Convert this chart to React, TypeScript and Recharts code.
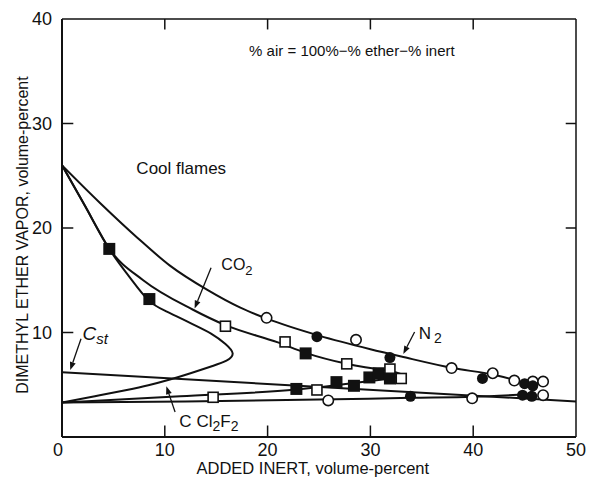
import React from "react";
import {
  ComposedChart,
  Line,
  Scatter,
  XAxis,
  YAxis,
  ReferenceLine,
  ReferenceDot,
} from "recharts";

const FONT = "'Liberation Sans', Arial, Helvetica, sans-serif";
const INK = "#111";

// ---------- axes ----------
const xTicks = [0, 10, 20, 30, 40, 50];
const yTicks = [0, 10, 20, 30, 40];
const innerXTicks = [10, 20, 30, 40];
const innerYTicks = [10, 20, 30];
const X_MAX = 50;
const Y_MAX = 40;
// inward tick length, in data units (about 10px)
const TICK_X = 1.0;
const TICK_Y = 1.0;

// ---------- boundary curves (x = added inert %, y = ether %) ----------
const cstLine = [
  { x: 0, y: 6.2 },
  { x: 50, y: 3.4 },
];

const n2Upper = [
  { x: 0, y: 26.0 },
  { x: 3.7, y: 22.4 },
  { x: 7.3, y: 19.1 },
  { x: 10.5, y: 16.4 },
  { x: 14.1, y: 14.1 },
  { x: 17.3, y: 12.4 },
  { x: 20, y: 11.3 },
  { x: 25, y: 9.7 },
  { x: 30, y: 8.4 },
  { x: 33, y: 7.7 },
  { x: 38, y: 6.6 },
  { x: 42, y: 5.95 },
  { x: 44, y: 5.45 },
  { x: 45.2, y: 5.05 },
];
const n2Nose = [
  { x: 45.2, y: 5.05 },
  { x: 45.8, y: 4.6 },
  { x: 45.4, y: 4.1 },
];
const n2Lower = [
  { x: 0, y: 3.3 },
  { x: 12, y: 3.4 },
  { x: 25, y: 3.58 },
  { x: 34, y: 3.75 },
  { x: 40, y: 3.85 },
  { x: 45.4, y: 4.1 },
];

const co2Upper = [
  { x: 0, y: 26.0 },
  { x: 2.3, y: 22.0 },
  { x: 4.6, y: 18.0 },
  { x: 7.9, y: 15.0 },
  { x: 12.7, y: 12.2 },
  { x: 15.9, y: 10.7 },
  { x: 21, y: 9.05 },
  { x: 23.7, y: 8.05 },
  { x: 27.7, y: 7.0 },
  { x: 32, y: 6.3 },
];
const co2Nose = [
  { x: 32, y: 6.3 },
  { x: 33.1, y: 5.95 },
  { x: 32, y: 5.6 },
];
const co2Lower = [
  { x: 0, y: 3.3 },
  { x: 11.5, y: 3.9 },
  { x: 22.8, y: 4.55 },
  { x: 27, y: 5.0 },
  { x: 32, y: 5.6 },
];

const ccl2f2Curve = [
  { x: 0, y: 26.0 },
  { x: 2.3, y: 22.0 },
  { x: 4.6, y: 18.0 },
  { x: 6.5, y: 15.4 },
  { x: 8.4, y: 13.1 },
  { x: 10.2, y: 12.0 },
  { x: 12.5, y: 10.9 },
  { x: 14.5, y: 9.9 },
  { x: 15.9, y: 8.9 },
  { x: 16.6, y: 8.0 },
  { x: 16.0, y: 7.3 },
  { x: 14.5, y: 6.75 },
  { x: 12.5, y: 6.1 },
  { x: 10.5, y: 5.5 },
  { x: 8.4, y: 4.95 },
  { x: 6.3, y: 4.5 },
  { x: 3.2, y: 3.9 },
  { x: 0, y: 3.3 },
];

// ---------- measured points ----------
const openCircles = [
  { x: 19.9, y: 11.4 },
  { x: 28.6, y: 9.3 },
  { x: 37.9, y: 6.6 },
  { x: 41.9, y: 6.1 },
  { x: 44.0, y: 5.4 },
  { x: 45.8, y: 5.3 },
  { x: 46.8, y: 5.3 },
  { x: 46.8, y: 4.0 },
  { x: 39.9, y: 3.7 },
  { x: 25.9, y: 3.5 },
];
const filledCircles = [
  { x: 24.8, y: 9.6 },
  { x: 31.9, y: 7.6 },
  { x: 40.9, y: 5.6 },
  { x: 45.0, y: 5.1 },
  { x: 45.8, y: 4.9 },
  { x: 45.7, y: 3.9 },
  { x: 44.8, y: 4.0 },
  { x: 33.9, y: 3.9 },
];
const openSquares = [
  { x: 15.9, y: 10.6 },
  { x: 21.7, y: 9.1 },
  { x: 27.7, y: 7.0 },
  { x: 31.9, y: 6.5 },
  { x: 33.0, y: 5.6 },
  { x: 24.8, y: 4.5 },
  { x: 14.7, y: 3.8 },
];
const filledSquares = [
  { x: 4.6, y: 18.0 },
  { x: 8.5, y: 13.2 },
  { x: 23.7, y: 8.0 },
  { x: 22.8, y: 4.6 },
  { x: 26.7, y: 5.25 },
  { x: 28.4, y: 4.9 },
  { x: 29.9, y: 5.7 },
  { x: 30.8, y: 6.1 },
  { x: 31.9, y: 5.6 },
];

// ---------- annotations ----------
const arrows = [
  { x1: 1.85, y1: 9.4, x2: 0.8, y2: 6.4 }, // C_st
  { x1: 14.5, y1: 16.2, x2: 12.9, y2: 12.3 }, // CO2
  { x1: 34.3, y1: 10.05, x2: 33.2, y2: 7.95 }, // N2
  { x1: 11.0, y1: 2.4, x2: 10.15, y2: 4.85 }, // CCl2F2
];
const coolFlamesPos = { x: 11.6, y: 25.7 };
const formulaPos = { x: 28.2, y: 37.0 };
const co2Pos = { x: 15.5, y: 16.5 };
const n2Pos = { x: 34.7, y: 9.95 };
const cstPos = { x: 2.0, y: 9.95 };
const ccl2f2Pos = { x: 11.4, y: 1.5 };

// ---------- tick labels ----------
function BottomTick(props: any) {
  const { x, y, payload } = props;
  const v = payload.value;
  return (
    <text x={v === 0 ? x - 4 : x} y={y + 19} textAnchor="middle" fontSize={18} fill={INK} fontFamily={FONT}>
      {v}
    </text>
  );
}

function LeftTick(props: any) {
  const { x, y, payload } = props;
  const v = payload.value;
  if (v === 0) return <g />;
  return (
    <text x={x - 10} y={y + 6} textAnchor="end" fontSize={18} fill={INK} fontFamily={FONT}>
      {v}
    </text>
  );
}

// ---------- markers ----------
const OpenCircle = (p: any) => <circle cx={p.cx} cy={p.cy} r={5.2} fill="#fff" stroke={INK} strokeWidth={1.6} />;
const FilledCircle = (p: any) => <circle cx={p.cx} cy={p.cy} r={5.5} fill={INK} />;
const OpenSquare = (p: any) => (
  <rect x={p.cx - 5} y={p.cy - 5} width={10} height={10} fill="#fff" stroke={INK} strokeWidth={1.6} />
);
const FilledSquare = (p: any) => <rect x={p.cx - 6} y={p.cy - 6} width={12} height={12} fill={INK} />;

function Arrow(p: any) {
  const { x1, y1, x2, y2 } = p;
  const a = Math.atan2(y2 - y1, x2 - x1);
  const L = 8;
  const W = 3;
  const bx = x2 - L * Math.cos(a);
  const by = y2 - L * Math.sin(a);
  const pts = `${x2},${y2} ${bx - W * Math.sin(a)},${by + W * Math.cos(a)} ${bx + W * Math.sin(a)},${by - W * Math.cos(a)}`;
  return (
    <g>
      <line x1={x1} y1={y1} x2={bx} y2={by} stroke={INK} strokeWidth={1.3} />
      <polygon points={pts} fill={INK} />
    </g>
  );
}

// label contents (viewBox of a zero-radius ReferenceDot = the point itself)
const textStyle = { fill: INK, fontFamily: FONT };

const CoolFlames = ({ viewBox }: any) => (
  <text x={viewBox.x} y={viewBox.y} textAnchor="middle" dominantBaseline="central" fontSize={17} {...textStyle}>
    Cool flames
  </text>
);
const Formula = ({ viewBox }: any) => (
  <text x={viewBox.x} y={viewBox.y} textAnchor="middle" dominantBaseline="central" fontSize={15} {...textStyle}>
    % air = 100%−% ether−% inert
  </text>
);
const Co2Label = ({ viewBox }: any) => (
  <text x={viewBox.x} y={viewBox.y} dominantBaseline="central" fontSize={16} {...textStyle}>
    CO<tspan dy={5} fontSize={13}>2</tspan>
  </text>
);
const N2Label = ({ viewBox }: any) => (
  <text x={viewBox.x} y={viewBox.y} dominantBaseline="central" fontSize={17} {...textStyle}>
    N<tspan dx={3} dy={5} fontSize={14}>2</tspan>
  </text>
);
const CstLabel = ({ viewBox }: any) => (
  <text x={viewBox.x} y={viewBox.y} dominantBaseline="central" fontSize={19} fontStyle="italic" {...textStyle}>
    C<tspan dy={5} fontSize={15}>st</tspan>
  </text>
);
const Ccl2f2Label = ({ viewBox }: any) => (
  <text x={viewBox.x} y={viewBox.y} dominantBaseline="central" fontSize={17} {...textStyle}>
    C<tspan dx={5}>Cl</tspan>
    <tspan dy={5} fontSize={14}>2</tspan>
    <tspan dy={-5}>F</tspan>
    <tspan dy={5} fontSize={14}>2</tspan>
  </text>
);

const XTitle = ({ viewBox }: any) => (
  <text x={viewBox.x + viewBox.width * 0.488} y={viewBox.y + 37} textAnchor="middle" fontSize={16.5} {...textStyle}>
    ADDED INERT, volume-percent
  </text>
);
const YTitle = ({ viewBox }: any) => {
  const cx = viewBox.x + 22;
  const cy = viewBox.y + viewBox.height / 2 + 7;
  return (
    <text
      x={cx}
      y={cy}
      textAnchor="middle"
      dominantBaseline="central"
      transform={`rotate(-90, ${cx}, ${cy})`}
      fontSize={16}
      {...textStyle}
    >
      DIMETHYL ETHER VAPOR, volume-percent
    </text>
  );
};

const curveProps = {
  dataKey: "y",
  stroke: INK,
  strokeWidth: 2,
  dot: false,
  activeDot: false,
  isAnimationActive: false,
  legendType: "none" as const,
};

const tickLineStyle = { stroke: INK, strokeWidth: 1.5 };

export default function App() {
  return (
    <div style={{ position: "absolute", left: 0, top: 0, background: "#fff" }}>
      <ComposedChart width={591} height={484} margin={{ top: 19, right: 15, bottom: 0, left: 0 }}>
        <XAxis
          dataKey="x"
          type="number"
          domain={[0, X_MAX]}
          ticks={xTicks}
          interval={0}
          tickSize={0}
          tickMargin={0}
          height={47}
          axisLine={{ stroke: INK, strokeWidth: 2 }}
          tickLine={false}
          tick={<BottomTick />}
          label={<XTitle />}
          allowDataOverflow
        />
        <YAxis
          type="number"
          domain={[0, Y_MAX]}
          ticks={yTicks}
          interval={0}
          tickSize={0}
          tickMargin={0}
          width={62}
          axisLine={{ stroke: INK, strokeWidth: 2 }}
          tickLine={false}
          tick={<LeftTick />}
          label={<YTitle />}
          allowDataOverflow
        />

        {/* frame: top and right borders */}
        <ReferenceLine y={Y_MAX} {...tickLineStyle} />
        <ReferenceLine x={X_MAX} {...tickLineStyle} />

        {/* inward ticks on all four sides */}
        {innerXTicks.map((v) => (
          <ReferenceLine key={`tb-${v}`} segment={[{ x: v, y: 0 }, { x: v, y: TICK_Y * 1.1 }]} {...tickLineStyle} />
        ))}
        {innerXTicks.map((v) => (
          <ReferenceLine key={`tt-${v}`} segment={[{ x: v, y: Y_MAX }, { x: v, y: Y_MAX - TICK_Y }]} {...tickLineStyle} />
        ))}
        {innerYTicks.map((v) => (
          <ReferenceLine key={`tl-${v}`} segment={[{ x: 0, y: v }, { x: TICK_X * 1.1, y: v }]} {...tickLineStyle} />
        ))}
        {innerYTicks.map((v) => (
          <ReferenceLine key={`tr-${v}`} segment={[{ x: X_MAX, y: v }, { x: X_MAX - TICK_X, y: v }]} {...tickLineStyle} />
        ))}

        <Line {...curveProps} data={cstLine} type="linear" />
        <Line {...curveProps} data={n2Upper} type="monotone" />
        <Line {...curveProps} data={n2Nose} type="natural" />
        <Line {...curveProps} data={n2Lower} type="monotone" />
        <Line {...curveProps} data={co2Upper} type="monotone" />
        <Line {...curveProps} data={co2Nose} type="natural" />
        <Line {...curveProps} data={co2Lower} type="monotone" />
        <Line {...curveProps} data={ccl2f2Curve} type="natural" />

        {arrows.map((a, i) => (
          <ReferenceLine
            key={`arrow-${i}`}
            segment={[
              { x: a.x1, y: a.y1 },
              { x: a.x2, y: a.y2 },
            ]}
            stroke={INK}
            shape={Arrow}
          />
        ))}

        <Scatter data={openCircles} dataKey="y" shape={OpenCircle} isAnimationActive={false} />
        <Scatter data={filledCircles} dataKey="y" shape={FilledCircle} isAnimationActive={false} />
        <Scatter data={openSquares} dataKey="y" shape={OpenSquare} isAnimationActive={false} />
        <Scatter data={filledSquares} dataKey="y" shape={FilledSquare} isAnimationActive={false} />

        <ReferenceDot x={coolFlamesPos.x} y={coolFlamesPos.y} r={0} fill="none" stroke="none" label={<CoolFlames />} />
        <ReferenceDot x={formulaPos.x} y={formulaPos.y} r={0} fill="none" stroke="none" label={<Formula />} />
        <ReferenceDot x={co2Pos.x} y={co2Pos.y} r={0} fill="none" stroke="none" label={<Co2Label />} />
        <ReferenceDot x={n2Pos.x} y={n2Pos.y} r={0} fill="none" stroke="none" label={<N2Label />} />
        <ReferenceDot x={cstPos.x} y={cstPos.y} r={0} fill="none" stroke="none" label={<CstLabel />} />
        <ReferenceDot x={ccl2f2Pos.x} y={ccl2f2Pos.y} r={0} fill="none" stroke="none" label={<Ccl2f2Label />} />
      </ComposedChart>
    </div>
  );
}
